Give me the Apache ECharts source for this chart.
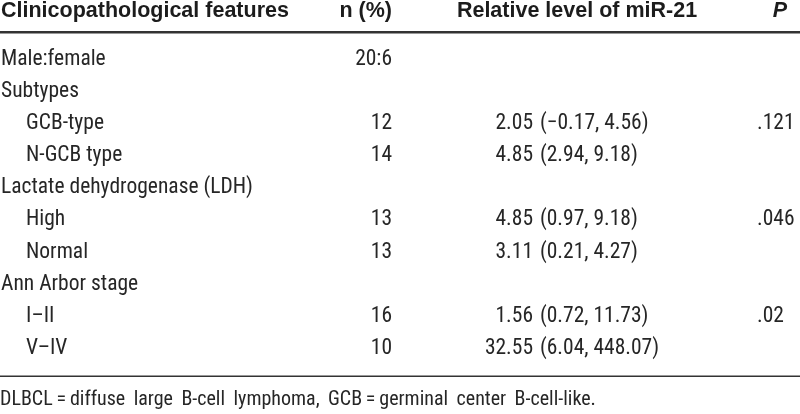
<!DOCTYPE html>
<html><head><meta charset="utf-8">
<script src="https://cdn.jsdelivr.net/npm/echarts@6/dist/echarts.min.js"></script>
<style>html,body{margin:0;padding:0;background:#fff}#c{width:800px;height:414px}</style>
</head><body><div id="c"></div>
<script>
// ---- table content ----
const headers = ['Clinicopathological features', 'n (%)', 'Relative level of miR-21', 'P'];
const features = ['Male:female', 'Subtypes', 'GCB-type', 'N-GCB type', 'Lactate dehydrogenase (LDH)', 'High', 'Normal', 'Ann Arbor stage', 'I–II', 'V–IV'];
const isSubItem = [false, false, true, true, false, true, true, false, true, true];
const nValues = ['20:6', '', '12', '14', '', '13', '13', '', '16', '10'];
const medians = ['', '', '2.05', '4.85', '', '4.85', '3.11', '', '1.56', '32.55'];
const ranges = ['', '', '(−0.17, 4.56)', '(2.94, 9.18)', '', '(0.97, 9.18)', '(0.21, 4.27)', '', '(0.72, 11.73)', '(6.04, 448.07)'];
const pValues = ['', '', '.121', '', '', '.046', '', '', '.02', ''];
const footnote = 'DLBCL\u2009=\u2009diffuse large B-cell lymphoma, GCB\u2009=\u2009germinal center B-cell-like.';

// ---- layout ----
const BODY_FONT = 'Roboto Condensed';
const HEAD_FONT = '"Liberation Sans", Arial, sans-serif';
const BODY = '#262626';
const HEAD = '#1c1c1c';
const rowKeys = features.map((f, i) => 'r' + i);
const colX = { feat: 1, sub: 26, n: 392, med: 533, rng: 540, p: 757 };

function textSeries(name, x, texts, align) {
  return {
    name, type: 'scatter', symbolSize: 0, silent: true,
    itemStyle: { opacity: 1 },
    data: texts.map((t, i) => ({ value: [typeof x === 'function' ? x(i) : x, rowKeys[i]], t })).filter(d => d.t !== ''),
    label: {
      show: true, position: 'inside', align, verticalAlign: 'middle',
      formatter: p => p.data.t, color: BODY, fontFamily: BODY_FONT, fontSize: 21.5
    }
  };
}

const headY = 11.5;
const HF = 'bold 21.5px ' + HEAD_FONT;
const chart = echarts.init(document.getElementById('c'), null, { renderer: 'canvas' });
chart.setOption({
  animation: false,
  grid: { left: 0, right: 0, top: 43.5, height: 321 },
  xAxis: { type: 'value', min: 0, max: 800, show: false },
  yAxis: { type: 'category', data: rowKeys, inverse: true, show: false },
  graphic: [
    { type: 'text', style: { x: 1, y: headY, text: headers[0], font: HF, fill: HEAD, align: 'left', verticalAlign: 'middle' } },
    { type: 'text', style: { x: 392, y: headY, text: headers[1], font: HF, fill: HEAD, align: 'right', verticalAlign: 'middle' } },
    { type: 'text', style: { x: 577, y: headY, text: headers[2], font: HF, fill: HEAD, align: 'center', verticalAlign: 'middle' } },
    { type: 'text', style: { x: 787, y: headY, text: headers[3], font: 'italic ' + HF, fill: HEAD, align: 'right', verticalAlign: 'middle' } },
    { type: 'rect', shape: { x: 0, y: 31, width: 800, height: 2.5 }, style: { fill: '#333' } },
    { type: 'rect', shape: { x: 0, y: 375.5, width: 800, height: 1.5 }, style: { fill: '#333' } },
    { type: 'text', style: { x: 0, y: 400, text: footnote.replace(/ /g, ' \u2009'), font: '20px ' + BODY_FONT, fill: BODY, align: 'left', verticalAlign: 'middle' } }
  ],
  series: [
    textSeries('feature', i => isSubItem[i] ? colX.sub : colX.feat, features, 'left'),
    textSeries('n', colX.n, nValues, 'right'),
    textSeries('median', colX.med, medians, 'right'),
    textSeries('range', colX.rng, ranges, 'left'),
    textSeries('p', colX.p, pValues, 'left')
  ]
});
</script></body></html>
